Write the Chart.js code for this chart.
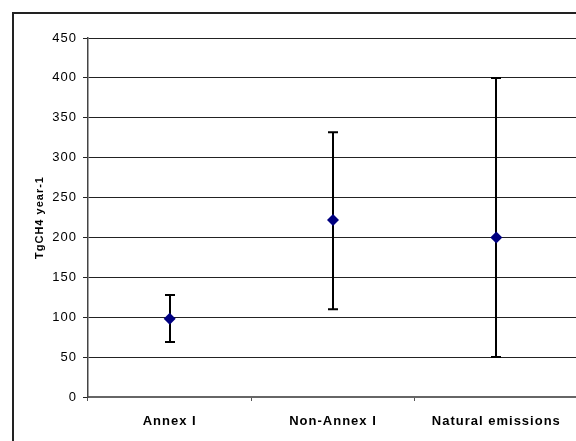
<!DOCTYPE html>
<html lang="en">
<head>
    <meta charset="UTF-8">
    <title>TgCH4 emissions</title>
    <script src="https://cdn.jsdelivr.net/npm/chart.js@4/dist/chart.umd.min.js"></script>
    <style>
        html, body { margin: 0; padding: 0; background: #fff; overflow: hidden; }
        #wrap { position: relative; width: 576px; height: 441px; overflow: hidden; }
        #frame { position: absolute; left: 12px; top: 12px; width: 620px; height: 470px;
                 border: 2px solid #222; box-sizing: border-box; }
        #c { position: absolute; left: 0; top: 0; }
    </style>
</head>
<body>
<div id="wrap">
    <div id="frame"></div>
    <canvas id="c" width="600" height="441" style="width:600px;height:441px"></canvas>
</div>
<script>
  // values
  var categories = ["Annex I", "Non-Annex I", "Natural emissions"];
  var central = [98, 222, 200];
  var low = [69, 110, 50];
  var high = [128, 332, 400];

  // the source text is set quite wide, so space the letters a bit
  var spacing = {
    id: 'spacing',
    beforeLayout: function (chart) { chart.ctx.letterSpacing = '1px'; },
    beforeDraw: function (chart) { chart.ctx.letterSpacing = '1px'; }
  };

  // draws the whiskers under the markers, using the chart scales
  var errorBars = {
    id: 'errorBars',
    beforeDatasetsDraw: function (chart) {
      var ctx = chart.ctx;
      var xs = chart.scales.x, ys = chart.scales.y;
      ctx.save();
      ctx.strokeStyle = '#000';
      ctx.lineWidth = 2;
      for (var i = 0; i < categories.length; i++) {
        var x = Math.round(xs.getPixelForValue(i));
        var yl = ys.getPixelForValue(low[i]);
        var yh = ys.getPixelForValue(high[i]);
        ctx.beginPath();
        ctx.moveTo(x, yl); ctx.lineTo(x, yh);
        ctx.moveTo(x - 5, yl); ctx.lineTo(x + 5, yl);
        ctx.moveTo(x - 5, yh); ctx.lineTo(x + 5, yh);
        ctx.stroke();
      }
      ctx.restore();
    }
  };

  var ctx = document.getElementById("c");
  var chart = new Chart(ctx, {
    type: 'line',
    data: {
      labels: categories,
      datasets: [{
        data: central,
        showLine: false,
        pointStyle: 'rectRot',
        pointRadius: 6,
        pointBackgroundColor: '#000080',
        pointBorderColor: '#000080',
        pointBorderWidth: 0
      }]
    },
    plugins: [spacing, errorBars],
    options: {
      responsive: false,
      animation: false,
      layout: { padding: { left: 0, top: 38, right: 22, bottom: 0 } },
      plugins: { legend: { display: false }, tooltip: { enabled: false } },
      scales: {
        x: {
          offset: true,
          afterFit: function (s) { s.height = 44; },
          grid: { offset: true, drawOnChartArea: false, tickLength: 4, color: '#555', lineWidth: 1 },
          border: { color: '#666', width: 2 },
          ticks: { color: '#000', padding: 13, font: { family: 'Arial, "Liberation Sans"', size: 13, weight: 'bold' } }
        },
        y: {
          min: 0, max: 450,
          afterFit: function (s) { s.width = 88; },
          ticks: { stepSize: 50, color: '#000', padding: 6, font: { family: 'Arial, "Liberation Sans"', size: 13 } },
          grid: { color: '#222', lineWidth: 1, tickLength: 5 },
          border: { color: '#444', width: 1.5 },
          title: { display: true, text: 'TgCH4 year-1', color: '#000', padding: { top: 33, bottom: 0 },
                   font: { family: 'Arial, "Liberation Sans"', size: 11, weight: 'bold' } }
        }
      }
    }
  });
</script>
</body>
</html>
